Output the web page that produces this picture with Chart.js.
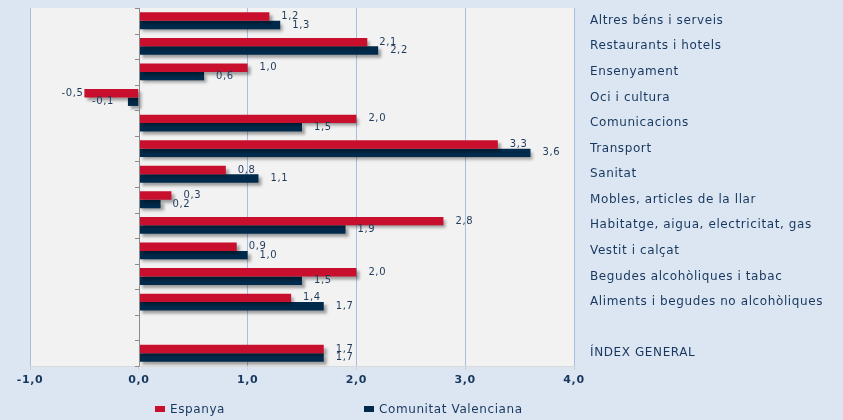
<!DOCTYPE html>
<html>
<head>
<meta charset="utf-8">
<script src="https://cdn.jsdelivr.net/npm/chart.js@4.4.1/dist/chart.umd.min.js"></script>
<style>
  html, body { margin: 0; padding: 0; background: #dce6f2; }
  #wrap { position: relative; width: 843px; height: 420px; }
  #legend { position: absolute; left: 0; top: 402px; width: 843px; height: 16px;
            font: 12px "DejaVu Sans", sans-serif; color: #17375e; letter-spacing: 0.6px; }
  #legend span.item { position: absolute; top: 0; white-space: nowrap; }
  #legend i { display: inline-block; width: 10px; height: 6px; margin-right: 5px; vertical-align: 1px; }
</style>
</head>
<body>
<div id="wrap">
  <canvas id="grafico" width="843" height="420"></canvas>
  <div id="legend">
    <span class="item" style="left:155px"><i style="background:#c8102e"></i>Espanya</span>
    <span class="item" style="left:364px"><i style="background:#002a4b"></i>Comunitat Valenciana</span>
  </div>
</div>
<script>
// categories, top to bottom (the empty one is the gap before the general index)
var categorias = [
  'Altres béns i serveis',
  'Restaurants i hotels',
  'Ensenyament',
  'Oci i cultura',
  'Comunicacions',
  'Transport',
  'Sanitat',
  'Mobles, articles de la llar',
  'Habitatge, aigua, electricitat, gas',
  'Vestit i calçat',
  'Begudes alcohòliques i tabac',
  'Aliments i begudes no alcohòliques',
  '',
  'ÍNDEX GENERAL'
];
var espanya   = [1.2, 2.1, 1.0, -0.5, 2.0, 3.3, 0.8, 0.3, 2.8, 0.9, 2.0, 1.4, null, 1.7];
var comunitat = [1.3, 2.2, 0.6, -0.1, 1.5, 3.6, 1.1, 0.2, 1.9, 1.0, 1.5, 1.7, null, 1.7];
var ticksX = [-1, 0, 1, 2, 3, 4];

var navy = '#17375e';

function fmt(v) { return v.toFixed(1).replace('.', ','); }

// plot background (+ a bit of letter spacing for all canvas text)
var fons = {
  id: 'fons',
  beforeDraw: function(chart) {
    var a = chart.chartArea, ctx = chart.ctx;
    ctx.letterSpacing = '0.6px';
    ctx.save();
    ctx.fillStyle = '#f2f2f2';
    ctx.fillRect(a.left, a.top, a.right - a.left, a.bottom - a.top);
    ctx.restore();
  }
};

// drop shadow for the bars
var ombra = {
  id: 'ombra',
  beforeDatasetsDraw: function(chart) {
    var ctx = chart.ctx;
    ctx.save();
    ctx.shadowColor = 'rgba(0,0,0,0.35)';
    ctx.shadowOffsetX = 3;
    ctx.shadowOffsetY = 3;
    ctx.shadowBlur = 3;
  },
  afterDatasetsDraw: function(chart) {
    chart.ctx.restore();
  }
};

// zero line with category tick marks + value labels
var etiquetes = {
  id: 'etiquetes',
  afterDatasetsDraw: function(chart) {
    var ctx = chart.ctx, a = chart.chartArea;
    var x0 = chart.scales.x.getPixelForValue(0);
    var n = categorias.length;
    var h = (a.bottom - a.top) / n;
    ctx.save();
    ctx.strokeStyle = '#8c8c8c';
    ctx.lineWidth = 1;
    ctx.beginPath();
    ctx.moveTo(Math.round(x0) + 0.5, a.top);
    ctx.lineTo(Math.round(x0) + 0.5, a.bottom);
    for (var i = 0; i <= n; i++) {
      var y = Math.round(a.top + i * h) + 0.5;
      ctx.moveTo(Math.round(x0) - 4, y);
      ctx.lineTo(Math.round(x0) + 0.5, y);
    }
    ctx.stroke();

    ctx.font = '10px "DejaVu Sans", sans-serif';
    ctx.fillStyle = '#1f3a5a';
    ctx.textBaseline = 'middle';
    chart.data.datasets.forEach(function(ds, d) {
      var meta = chart.getDatasetMeta(d);
      meta.data.forEach(function(el, i) {
        var v = ds.data[i];
        if (v === null) return;
        if (v >= 0) {
          ctx.textAlign = 'left';
          ctx.fillText(fmt(v), el.x + 12, el.y);
        } else {
          ctx.textAlign = 'right';
          ctx.fillText(fmt(v), el.x - (d === 0 ? 1 : 14), el.y);
        }
      });
    });
    ctx.restore();
  }
};

new Chart(document.getElementById('grafico'), {
  type: 'bar',
  data: {
    labels: categorias,
    datasets: [{
      label: 'Espanya',
      data: espanya,
      backgroundColor: '#c8102e',
      categoryPercentage: 0.66,
      barPercentage: 1.0
    }, {
      label: 'Comunitat Valenciana',
      data: comunitat,
      backgroundColor: '#002a4b',
      categoryPercentage: 0.66,
      barPercentage: 1.0
    }]
  },
  options: {
    indexAxis: 'y',
    responsive: false,
    animation: false,
    layout: { padding: { left: 30, top: 8, right: 0, bottom: 30 } },
    plugins: {
      legend: { display: false },
      tooltip: { enabled: false }
    },
    scales: {
      x: {
        min: -1, max: 4,
        afterBuildTicks: function(s) { s.ticks = ticksX.map(function(v) { return { value: v }; }); },
        afterFit: function(s) { s.height = 24; },
        grid: {
          color: function(c) { return c.tick && c.tick.value === 0 ? 'rgba(0,0,0,0)' : '#a7bfdc'; },
          tickColor: '#d0d0d0',
          tickLength: 4
        },
        border: { display: true, color: '#d9d9d9' },
        ticks: {
          padding: 4,
          color: navy,
          font: { family: 'DejaVu Sans', size: 11, weight: 'bold' },
          callback: function(v) { return fmt(v); }
        }
      },
      y: {
        position: 'right',
        afterFit: function(s) { s.width = 269; },
        grid: { display: true, drawOnChartArea: false, drawTicks: true, tickLength: 16, color: 'rgba(0,0,0,0)' },
        border: { display: false },
        ticks: {
          padding: 0,
          color: navy,
          font: { family: 'DejaVu Sans', size: 12 }
        }
      }
    }
  },
  plugins: [fons, ombra, etiquetes]
});
</script>
</body>
</html>
